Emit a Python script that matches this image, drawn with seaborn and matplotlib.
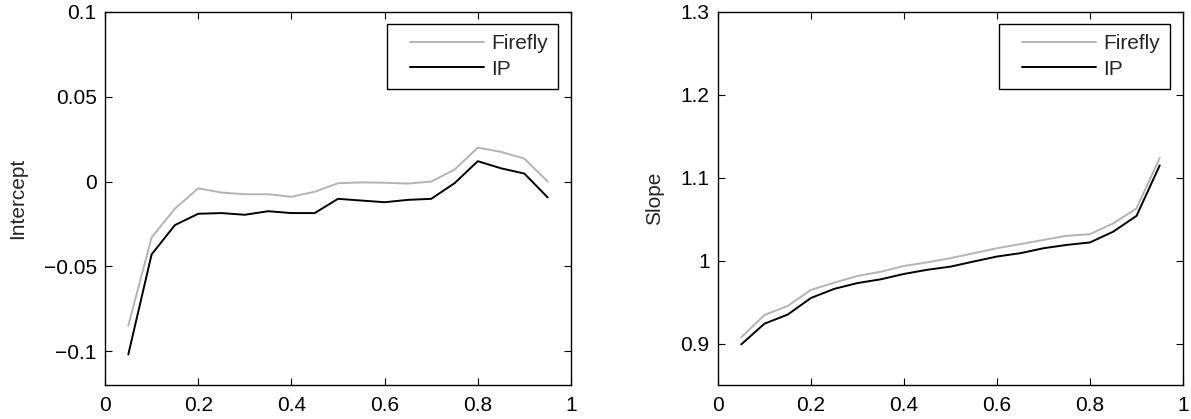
import numpy as np
import pandas as pd
import matplotlib
matplotlib.use("Agg")
import matplotlib.pyplot as plt
from matplotlib.legend_handler import HandlerLine2D
import seaborn as sns

x_vals = [0.05, 0.10, 0.15, 0.20, 0.25, 0.30, 0.35, 0.40, 0.45, 0.50,
          0.55, 0.60, 0.65, 0.70, 0.75, 0.80, 0.85, 0.90, 0.95]

intercept_firefly = [-0.085, -0.033, -0.016, -0.004, -0.0065, -0.0075, -0.0075, -0.009, -0.006, -0.001,
                     -0.0005, -0.0007, -0.0012, 0.0, 0.007, 0.020, 0.0175, 0.0135, 0.0]
intercept_ip = [-0.102, -0.043, -0.0257, -0.019, -0.0186, -0.0196, -0.0175, -0.0186, -0.0186, -0.0102,
                -0.0112, -0.0122, -0.0108, -0.0102, -0.001, 0.012, 0.0078, 0.0047, -0.0094]

slope_firefly = [0.9076, 0.9345, 0.9454, 0.9647, 0.9735, 0.9815, 0.9867, 0.9936, 0.998, 1.003,
                 1.009, 1.015, 1.020, 1.025, 1.030, 1.032, 1.045, 1.063, 1.124]
slope_ip = [0.899, 0.924, 0.935, 0.955, 0.966, 0.973, 0.9775, 0.984, 0.989, 0.9928,
            0.999, 1.005, 1.009, 1.015, 1.019, 1.022, 1.035, 1.054, 1.115]

series_names = ["Firefly", "IP"]
series_colors = ["#b3b3b3", "#000000"]

x_ticks = [0, 0.2, 0.4, 0.6, 0.8, 1]
x_tick_labels = ["0", "0.2", "0.4", "0.6", "0.8", "1"]
int_ticks = [-0.1, -0.05, 0, 0.05, 0.1]
int_tick_labels = ["\u22120.1", "\u22120.05", "0", "0.05", "0.1"]
slope_ticks = [0.9, 1.0, 1.1, 1.2, 1.3]
slope_tick_labels = ["0.9", "1", "1.1", "1.2", "1.3"]

sns.set_style("ticks")
plt.rcParams['font.family'] = ['Liberation Sans', 'DejaVu Sans']
plt.rcParams['font.size'] = 15

def make_df(a, b):
    return pd.DataFrame({
        "x": x_vals * 2,
        "y": list(a) + list(b),
        "series": [series_names[0]] * len(x_vals) + [series_names[1]] * len(x_vals),
    })

W, H = 1191, 419
fig = plt.figure(figsize=(W / 100, H / 100), dpi=100)
ax1 = fig.add_axes([105 / W, 34 / H, 466 / W, 373 / H])
ax2 = fig.add_axes([718 / W, 34 / H, 465 / W, 373 / H])

palette = dict(zip(series_names, series_colors))

configs = [
    (ax1, (intercept_firefly, intercept_ip), (-0.12, 0.1), int_ticks, int_tick_labels,
     "Intercept", 105, 571, 27),
    (ax2, (slope_firefly, slope_ip), (0.85, 1.3), slope_ticks, slope_tick_labels,
     "Slope", 718, 1183, 664),
]

for ax, (a, b), ylim, yt, ytl, ylabel, left_px, right_px, lab_px in configs:
    df = make_df(a, b)
    sns.lineplot(data=df, x="x", y="y", hue="series", palette=palette,
                 linewidth=1.4, ax=ax, legend=True)
    ax.set_xlim(0, 1)
    ax.set_ylim(*ylim)
    ax.set_xticks(x_ticks)
    ax.set_xticklabels(x_tick_labels)
    ax.set_yticks(yt)
    ax.set_yticklabels(ytl)
    ax.set_xlabel("")
    ax.set_ylabel(ylabel, fontsize=15)
    width_px = right_px - left_px
    ax.yaxis.set_label_coords((lab_px - left_px) / width_px, 0.5)
    ax.tick_params(direction="in", length=5, width=0.8, top=True, right=True,
                   labelsize=15, colors="black")
    ax.tick_params(axis="x", pad=8)
    ax.tick_params(axis="y", pad=6)
    for s in ax.spines.values():
        s.set_visible(True)
        s.set_linewidth(1.0)
        s.set_color("black")
    handles, labels = ax.get_legend_handles_labels()
    leg_right = (right_px - 13 - left_px) / width_px
    leg_top = (385 - 24) / 373
    leg = ax.legend(handles, labels, loc="upper right",
                    bbox_to_anchor=(leg_right, leg_top), borderaxespad=0,
                    fontsize=15, frameon=True, fancybox=False, edgecolor="black",
                    framealpha=1,
                    handlelength=4.15, handletextpad=0.33, borderpad=0.5,
                    labelspacing=0.3, title=None,
                    handler_map={h: HandlerLine2D(xpad=0.58) for h in handles})
    leg.get_frame().set_linewidth(1.0)
    for line in leg.get_lines():
        line.set_linewidth(1.4)

fig.savefig("out.png", dpi=100)
